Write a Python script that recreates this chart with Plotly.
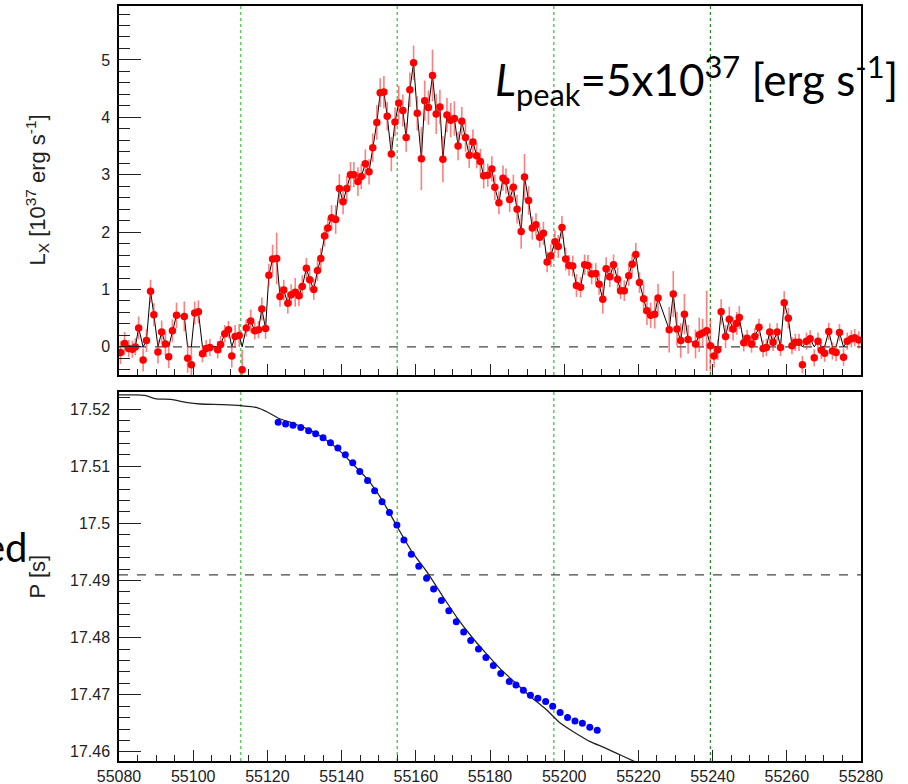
import plotly.graph_objects as go

# ---------------- data ----------------
mjd_lx = [
    55080.4, 55081.5, 55082.6, 55083.6, 55084.4, 55085.3, 55086.5, 55087.4, 55088.5, 55089.4,
    55090.5, 55091.5, 55092.5, 55093.4, 55094.4, 55095.5, 55097.6, 55098.5, 55099.5, 55100.4,
    55101.4, 55102.5, 55103.5, 55104.5, 55106.6, 55107.4, 55108.5, 55109.5, 55110.4, 55111.3,
    55112.4, 55113.2, 55114.3, 55115.5, 55116.6, 55117.6, 55118.5, 55119.5, 55120.4, 55121.4,
    55122.5, 55123.4, 55124.4, 55125.5, 55126.4, 55127.5, 55128.5, 55129.4, 55130.5, 55131.4,
    55132.5, 55133.5, 55134.4, 55135.4, 55136.3, 55137.3, 55138.4, 55139.4, 55140.4, 55141.4,
    55142.4, 55143.3, 55144.4, 55145.3, 55146.4, 55147.4, 55148.4, 55149.5, 55150.4, 55151.4,
    55152.3, 55153.4, 55154.4, 55155.4, 55156.5, 55157.4, 55158.4, 55159.4, 55160.4, 55161.5,
    55162.4, 55163.4, 55164.5, 55165.5, 55166.5, 55167.3, 55168.4, 55169.4, 55170.4, 55171.4,
    55172.4, 55173.4, 55174.4, 55175.4, 55176.4, 55177.4, 55178.3, 55179.4, 55180.5, 55181.3,
    55182.4, 55183.5, 55184.3, 55185.3, 55186.3, 55187.3, 55188.4, 55189.3, 55190.4, 55191.4,
    55192.4, 55193.4, 55194.4, 55195.4, 55196.4, 55197.5, 55198.4, 55199.4, 55200.4, 55201.3,
    55202.3, 55203.3, 55204.4, 55205.5, 55206.4, 55207.4, 55208.5, 55209.4, 55210.4, 55211.3,
    55212.3, 55213.3, 55214.4, 55215.2, 55216.2, 55217.4, 55218.3, 55219.3, 55220.3, 55221.4,
    55222.3, 55223.3, 55224.4, 55225.3, 55228.3, 55229.4, 55230.4, 55231.4, 55232.4, 55233.4,
    55235.4, 55236.4, 55237.3, 55238.4, 55239.4, 55240.4, 55241.4, 55242.3, 55243.5, 55244.5,
    55245.5, 55246.5, 55247.2, 55248.4, 55249.3, 55250.5, 55251.4, 55252.5, 55253.6, 55254.5,
    55255.4, 55256.3, 55257.4, 55258.3, 55259.3, 55260.4, 55261.4, 55262.3, 55263.3, 55264.2,
    55265.3, 55266.3, 55267.4, 55268.4, 55269.3, 55270.2, 55271.3, 55272.3, 55273.3, 55274.2,
    55275.3, 55276.3, 55277.4, 55278.3, 55279.4,
]
lum = [
    -0.10, 0.06, -0.03, -0.04, 0.00, 0.33, -0.23, 0.11, 0.97, 0.56,
    -0.09, 0.26, 0.05, -0.17, 0.28, 0.55, 0.53, -0.20, -0.31, 0.59,
    0.61, -0.12, -0.03, -0.01, -0.05, 0.04, 0.23, 0.30, -0.16, 0.18,
    0.20, -0.40, 0.33, 0.45, 0.28, 0.30, 0.66, 0.32, 1.25, 1.53,
    1.54, 0.88, 0.99, 0.76, 0.91, 0.95, 0.89, 1.05, 1.37, 1.17,
    1.00, 1.33, 1.54, 1.93, 2.07, 2.25, 2.22, 2.76, 2.53, 2.76,
    3.00, 3.00, 2.88, 2.97, 3.19, 3.05, 3.47, 3.91, 4.43, 4.44,
    4.02, 3.36, 3.92, 4.25, 4.12, 3.65, 4.48, 4.95, 4.07, 3.28,
    4.29, 4.17, 4.73, 4.06, 4.18, 3.27, 4.04, 3.95, 3.98, 3.50,
    3.93, 3.65, 3.34, 3.57, 3.33, 3.23, 2.98, 2.99, 3.10, 2.78,
    2.51, 2.94, 2.89, 2.57, 2.78, 2.40, 2.01, 2.96, 2.55, 2.07,
    2.13, 1.91, 1.98, 1.48, 1.59, 1.83, 1.75, 2.08, 1.53, 1.42,
    1.41, 1.07, 1.04, 1.43, 1.42, 1.27, 1.28, 1.09, 0.83, 1.36,
    1.22, 1.43, 1.18, 0.98, 0.98, 1.24, 1.44, 1.61, 1.12, 0.84,
    0.63, 0.55, 0.57, 0.85, 0.30, 0.92, 0.31, 0.11, 0.57, 0.13,
    0.05, 0.21, 0.24, 0.28, 0.02, -0.16, -0.05, 0.61, 0.18, 0.48,
    0.31, 0.41, 0.51, 0.07, 0.15, 0.05, 0.18, 0.34, -0.03, -0.01,
    0.26, 0.08, 0.26, -0.01, 0.77, 0.50, 0.02, 0.08, 0.08, -0.31,
    0.10, 0.14, -0.19, 0.10, -0.06, -0.11, 0.27, -0.07, -0.10, 0.25,
    -0.18, 0.10, 0.14, 0.16, 0.12,
]
lum_err = [
    0.20, 0.20, 0.15, 0.15, 0.15, 0.20, 0.20, 0.20, 0.20, 0.20,
    0.20, 0.20, 0.20, 0.20, 0.20, 0.22, 0.26, 0.25, 0.30, 0.20,
    0.20, 0.15, 0.15, 0.15, 0.15, 0.15, 0.15, 0.15, 0.20, 0.20,
    0.20, 0.35, 0.15, 0.20, 0.15, 0.15, 0.20, 0.18, 0.20, 0.25,
    0.45, 0.18, 0.18, 0.18, 0.18, 0.25, 0.18, 0.20, 0.18, 0.18,
    0.18, 0.18, 0.18, 0.18, 0.18, 0.22, 0.25, 0.25, 0.22, 0.22,
    0.22, 0.22, 0.25, 0.22, 0.25, 0.22, 0.25, 0.30, 0.25, 0.28,
    0.25, 0.30, 0.25, 0.30, 0.28, 0.25, 0.30, 0.30, 0.30, 0.55,
    0.35, 0.30, 0.45, 0.35, 0.30, 0.40, 0.30, 0.30, 0.30, 0.25,
    0.25, 0.25, 0.22, 0.22, 0.22, 0.22, 0.22, 0.20, 0.22, 0.22,
    0.20, 0.22, 0.22, 0.22, 0.22, 0.25, 0.30, 0.40, 0.25, 0.20,
    0.20, 0.18, 0.20, 0.18, 0.20, 0.20, 0.20, 0.20, 0.20, 0.18,
    0.18, 0.20, 0.18, 0.18, 0.18, 0.18, 0.18, 0.18, 0.25, 0.20,
    0.18, 0.18, 0.20, 0.15, 0.18, 0.18, 0.18, 0.20, 0.18, 0.25,
    0.25, 0.22, 0.25, 0.25, 0.40, 0.40, 0.30, 0.30, 0.35, 0.25,
    0.25, 0.30, 0.25, 0.70, 0.45, 0.20, 0.18, 0.22, 0.20, 0.22,
    0.20, 0.20, 0.20, 0.15, 0.15, 0.15, 0.15, 0.15, 0.15, 0.15,
    0.15, 0.15, 0.15, 0.15, 0.20, 0.18, 0.15, 0.15, 0.15, 0.15,
    0.15, 0.15, 0.15, 0.15, 0.15, 0.15, 0.15, 0.15, 0.15, 0.15,
    0.15, 0.15, 0.15, 0.15, 0.15,
]

mjd_p = [
    55122.9, 55124.9, 55126.9, 55129.0, 55131.1, 55133.0, 55135.0, 55137.0, 55139.0, 55141.0,
    55143.0, 55144.9, 55147.0, 55148.9, 55150.9, 55152.9, 55154.9, 55156.8, 55158.8, 55160.8,
    55162.9, 55164.8, 55166.9, 55168.9, 55170.9, 55172.9, 55174.8, 55176.9, 55178.9, 55180.9,
    55182.9, 55185.2, 55187.0, 55189.0, 55190.9, 55192.9, 55195.0, 55196.9, 55198.9, 55200.9,
    55202.9, 55204.9, 55206.9, 55208.9,
]
period = [
    17.5177, 17.5174, 17.5172, 17.5168, 17.5162, 17.5157, 17.5150, 17.5141, 17.5132, 17.5120,
    17.5106, 17.5091, 17.5075, 17.5057, 17.5038, 17.5019, 17.4997, 17.4971, 17.4946, 17.4925,
    17.4904, 17.4885, 17.4865, 17.4847, 17.4828, 17.4810, 17.4795, 17.4780, 17.4765, 17.4751,
    17.4737, 17.4723, 17.4717, 17.4708, 17.4699, 17.4694, 17.4688, 17.4680, 17.4669, 17.4660,
    17.4654, 17.4650, 17.4643, 17.4638,
]

mjd_model = [55080, 55084, 55087, 55090, 55094, 55098, 55102, 55108, 55113, 55117,
             55120, 55123, 55127, 55131, 55135, 55139, 55143, 55147, 55151, 55155,
             55159, 55163, 55167, 55171, 55175, 55179, 55183, 55187, 55191, 55195,
             55199, 55203, 55207, 55211, 55215, 55219]
period_model = [17.5225, 17.5225, 17.5224, 17.5218, 17.5217, 17.5212, 17.5209, 17.5208, 17.5206, 17.5203,
                17.5195, 17.5184, 17.5175, 17.5165, 17.5150, 17.5130, 17.5104, 17.5077, 17.5040, 17.4994,
                17.4950, 17.4915, 17.4875, 17.4836, 17.4802, 17.4772, 17.4744, 17.4720, 17.4696, 17.4675,
                17.4650, 17.4633, 17.4618, 17.4607, 17.4595, 17.4583]

orbit_marks = [55112.8, 55155.0, 55197.2, 55239.4]
lx_ref = 0.0
p_ref = 17.491

x_ticks = [55080, 55100, 55120, 55140, 55160, 55180, 55200, 55220, 55240, 55260, 55280]
lx_ticks = [0, 1, 2, 3, 4, 5]
p_ticks = [17.46, 17.47, 17.48, 17.49, 17.50, 17.51, 17.52]
p_ticktext = ["17.46", "17.47", "17.48", "17.49", "17.5", "17.51", "17.52"]

assert len(mjd_lx) == len(lum) == len(lum_err)
assert len(mjd_p) == len(period)
assert len(mjd_model) == len(period_model)

# ---------------- figure ----------------
lum_line = [max(v, 0.0) for v in lum]

fig = go.Figure()
fig.add_trace(go.Scatter(x=mjd_lx, y=lum_line, mode="lines",
                         line=dict(color="black", width=1), xaxis="x", yaxis="y",
                         hoverinfo="skip"))
fig.add_trace(go.Scatter(x=mjd_lx, y=lum, mode="markers",
                         marker=dict(color="#ff0000", size=7.5),
                         error_y=dict(type="data", array=lum_err, color="rgba(255,40,40,0.6)",
                                      thickness=1.6, width=0),
                         xaxis="x", yaxis="y", cliponaxis=True))
fig.add_trace(go.Scatter(x=mjd_model, y=period_model, mode="lines",
                         line=dict(color="#222222", width=1.3, shape="spline", smoothing=0.6),
                         xaxis="x2", yaxis="y2"))
fig.add_trace(go.Scatter(x=mjd_p, y=period, mode="markers",
                         marker=dict(color="#0000ff", size=7),
                         xaxis="x2", yaxis="y2"))

tickfont = dict(family="Liberation Sans, Arial, sans-serif", size=16, color="#222222")

common_x = dict(range=[55080, 55280], tickmode="array", tickvals=x_ticks,
                ticktext=[str(v) for v in x_ticks],
                ticks="inside", ticklen=11, tickwidth=1, tickcolor="#222222",
                minor=dict(ticks="inside", ticklen=6, dtick=5, tick0=55080, tickcolor="#222222"),
                showline=True, mirror=True, linecolor="black", linewidth=1.5,
                showgrid=False, zeroline=False, tickfont=tickfont, automargin=False)
common_y = dict(ticks="inside", ticklen=22, tickwidth=1, tickcolor="#222222",
                showline=True, mirror=True, linecolor="black", linewidth=1.5,
                showgrid=False, zeroline=False, tickfont=tickfont, ticklabelstandoff=4,
                automargin=False)

y_split_top = (761 - 375) / 755
y_split_bot = (761 - 392) / 755

fig.update_layout(
    width=908, height=784,
    margin=dict(l=119, r=47, t=6, b=23, autoexpand=False),
    paper_bgcolor="white", plot_bgcolor="white",
    showlegend=False,
    xaxis=dict(common_x, anchor="y", domain=[0, 1], showticklabels=False),
    yaxis=dict(common_y, domain=[y_split_top, 1], range=[-0.49, 5.94],
               tickmode="array", tickvals=lx_ticks, ticktext=[str(v) for v in lx_ticks],
               minor=dict(ticks="inside", ticklen=11, dtick=0.2, tick0=0, tickcolor="#222222")),
    xaxis2=dict(common_x, anchor="y2", domain=[0, 1], showticklabels=True),
    yaxis2=dict(common_y, domain=[0, y_split_bot], range=[17.4584, 17.523],
                tickmode="array", tickvals=p_ticks, ticktext=p_ticktext,
                minor=dict(ticks="inside", ticklen=11, dtick=0.002, tick0=17.46, tickcolor="#222222")),
)

shapes = []
for i, m in enumerate(orbit_marks):
    col = "#1f8f1f" if i == len(orbit_marks) - 1 else "#5ccc5c"
    wid = 1.2 if i == len(orbit_marks) - 1 else 1.5
    for xr, yr in (("x", "y domain"), ("x2", "y2 domain")):
        shapes.append(dict(type="line", xref=xr, yref=yr, x0=m, x1=m, y0=0, y1=1,
                           line=dict(color=col, width=wid, dash="dot"), layer="below"))
shapes.append(dict(type="line", xref="x domain", yref="y", x0=0, x1=1, y0=lx_ref, y1=lx_ref,
                   line=dict(color="#444444", width=1.2, dash="dash"), layer="below"))
shapes.append(dict(type="line", xref="x2 domain", yref="y2", x0=0, x1=1, y0=p_ref, y1=p_ref,
                   line=dict(color="#444444", width=1.2, dash="dash"), layer="below"))
fig.update_layout(shapes=shapes)

title_font = dict(family="Liberation Sans, Arial, sans-serif", size=22, color="#222222")
ann = [
    dict(text="L<sub>X</sub> [10<sup>37</sup> erg s<sup>-1</sup>]", xref="paper", yref="paper",
         x=(37 - 119) / 742, y=(y_split_top + 1) / 2, textangle=-90, showarrow=False,
         xanchor="center", yanchor="middle", font=title_font),
    dict(text="P [s]", xref="paper", yref="paper",
         x=(37 - 119) / 742, y=y_split_bot / 2, textangle=-90, showarrow=False,
         xanchor="center", yanchor="middle", font=title_font),
    dict(text="<i>L</i><sub>peak</sub>=5x10<sup>37</sup> [erg s<sup>-1</sup>]",
         xref="paper", yref="paper", x=(493 - 119) / 742, y=(761 - 80) / 755,
         xanchor="left", yanchor="middle", showarrow=False,
         font=dict(family="Lato, Open Sans, sans-serif", size=44, color="black")),
    dict(text="ed", xref="paper", yref="paper", x=(30 - 119) / 742, y=(761 - 547) / 755,
         xanchor="right", yanchor="middle", showarrow=False,
         font=dict(family="Lato, Open Sans, sans-serif", size=40, color="black")),
]
fig.update_layout(annotations=ann)

fig.write_html("out.html")
